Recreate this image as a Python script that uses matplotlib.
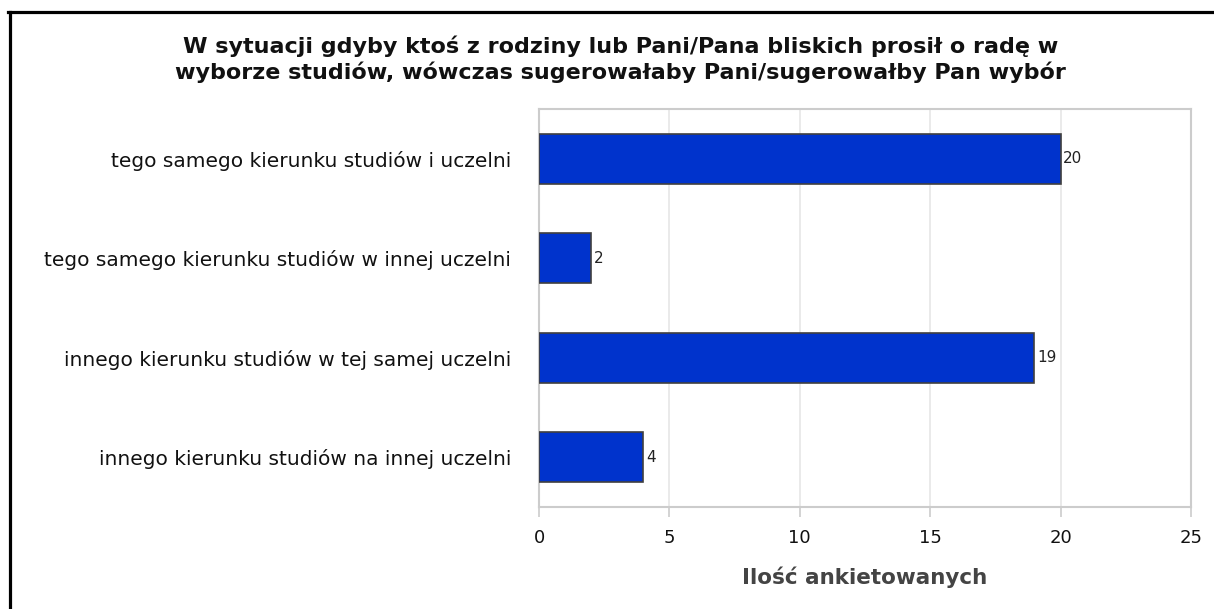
import numpy as np
from matplotlib import pyplot as plt
from matplotlib.lines import Line2D

# Chart data
categories = [
    'tego samego kierunku studiów i uczelni',
    'tego samego kierunku studiów w innej uczelni',
    'innego kierunku studiów w tej samej uczelni',
    'innego kierunku studiów na innej uczelni',
]
counts = [20, 2, 19, 4]
x_ticks = [0, 5, 10, 15, 20, 25]

title = ('W sytuacji gdyby ktoś z rodziny lub Pani/Pana bliskich prosił o radę w\n'
         'wyborze studiów, wówczas sugerowałaby Pani/sugerowałby Pan wybór')
x_label = 'Ilość ankietowanych'

narrow = ['Liberation Sans Narrow', 'DejaVu Sans Condensed', 'DejaVu Sans']

fig = plt.figure(figsize=(12.14, 6.09), dpi=100)
ax = fig.add_axes([0.444, 0.1675, 0.537, 0.6535])

y_pos = np.arange(len(categories))
ax.barh(y_pos, counts, height=0.5, color='#0033cc', edgecolor='#404040', linewidth=1.2, zorder=3)

# Value labels next to each bar
for y, v in zip(y_pos, counts):
    ax.text(v + 0.1, y, str(v), va='center', ha='left', fontsize=11,
            family=narrow, color='#222222', zorder=4)

ax.set_xlim(0, 25)
ax.set_ylim(len(categories) - 0.5, -0.5)
ax.set_xticks(x_ticks)
ax.set_yticks(y_pos)
ax.set_yticklabels(categories, fontsize=14.5, family='DejaVu Sans', color='#111111')
ax.tick_params(axis='y', length=0, pad=20)
ax.tick_params(axis='x', length=7, width=1.2, color='#cccccc', pad=9,
               labelsize=13, labelcolor='#111111')

ax.grid(axis='x', color='#e6e6e6', linewidth=1.2, zorder=0)
for side in ['top', 'right', 'left', 'bottom']:
    ax.spines[side].set_color('#cccccc')
    ax.spines[side].set_linewidth(1.5)

ax.set_xlabel(x_label, fontsize=15.5, family=narrow, fontweight='bold',
              color='#444444', labelpad=14)

fig.text(0.511, 0.903, title, ha='center', va='center', fontsize=16,
         family=narrow, fontweight='bold', color='#111111', linespacing=1.25)

# Black frame lines at top and left of the image
fig.add_artist(Line2D([8 / 1214, 1], [0.981, 0.981], color='black', linewidth=2.3,
                      transform=fig.transFigure))
fig.add_artist(Line2D([9.5 / 1214, 9.5 / 1214], [0, 0.981], color='black', linewidth=2.3,
                      transform=fig.transFigure))

fig.savefig('out.png', dpi=100)
